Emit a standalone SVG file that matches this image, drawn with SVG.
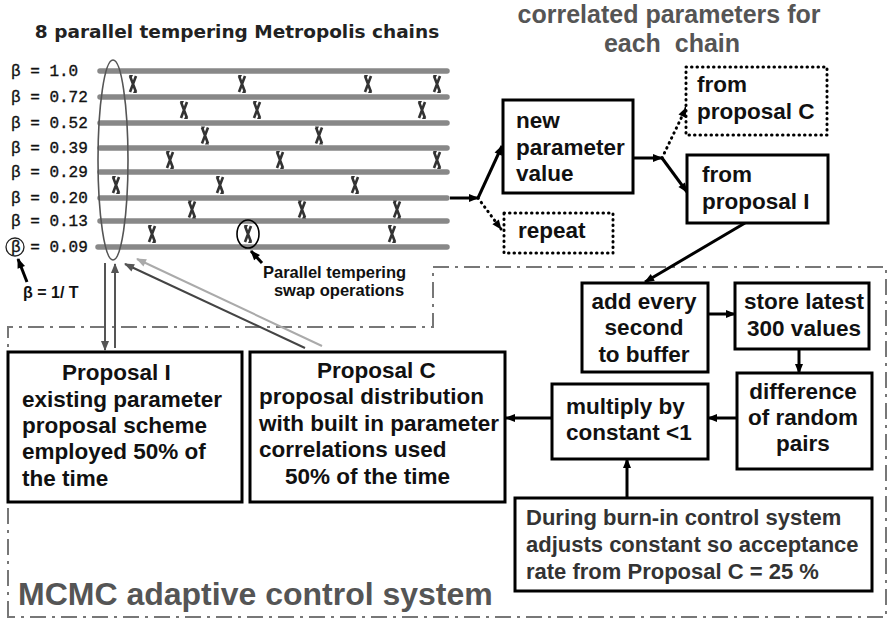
<svg xmlns="http://www.w3.org/2000/svg" xmlns:xlink="http://www.w3.org/1999/xlink" width="889" height="619" viewBox="0 0 889 619">
<defs>
<style>
.box{fill:#fff;stroke:#000;stroke-width:3}
.dbox{fill:#fff;stroke:#000;stroke-width:3;stroke-dasharray:0.5 5;stroke-linecap:round}
.t{font-family:"Liberation Sans",Arial,sans-serif;font-weight:bold;font-size:22.5px;fill:#111}
.tb{font-family:"Liberation Sans",Arial,sans-serif;font-weight:bold;font-size:22px;fill:#333}
.gt{font-family:"Liberation Sans",Arial,sans-serif;font-weight:bold;fill:#555}
.mono{font-family:"Liberation Mono","Courier New",monospace;font-size:16px;fill:#111;stroke:#111;stroke-width:0.35}
.chain{stroke:#888;stroke-width:5.5;stroke-linecap:round}
.a{fill:none;stroke:#000;stroke-width:3}
.ad{fill:none;stroke:#000;stroke-width:3;stroke-dasharray:0.5 5;stroke-linecap:round}
.bound{fill:none;stroke:#777;stroke-width:2;stroke-dasharray:16 6 3 6}
</style>
<marker id="ah" viewBox="0 0 10 10" refX="9" refY="5" markerWidth="11" markerHeight="10" markerUnits="userSpaceOnUse" orient="auto"><path d="M0,1 L10,5 L0,9 Z" fill="#000"/></marker>
<marker id="ahg" viewBox="0 0 10 10" refX="9" refY="5" markerWidth="11" markerHeight="10" markerUnits="userSpaceOnUse" orient="auto"><path d="M0,1 L10,5 L0,9 Z" fill="#555"/></marker>
<marker id="ahl" viewBox="0 0 10 10" refX="9" refY="5" markerWidth="11" markerHeight="10" markerUnits="userSpaceOnUse" orient="auto"><path d="M0,1 L10,5 L0,9 Z" fill="#aaa"/></marker>
<g id="swap">
<path d="M-3,-8 L3,8 M3,-8 L-3,8" stroke="#333" stroke-width="2.6" fill="none"/>
<path d="M-4,-9 L0,-9 L-2,-5 Z M4,9 L0,9 L2,5 Z" fill="#333"/>
</g>
</defs>
<rect width="889" height="619" fill="#fff"/>

<g id="boundary">
<path class="bound" d="M8,617 L8,327 L433,327 L433,267 L886,267 L886,617 Z"/>
</g>

<g id="titles">
<text x="237" y="38" text-anchor="middle" style="font-family:'DejaVu Sans',Verdana,sans-serif;font-weight:bold;font-size:18.5px;fill:#222">8 parallel tempering Metropolis chains</text>
<text class="gt" x="669" y="23" text-anchor="middle" font-size="25">correlated parameters for</text>
<text class="gt" x="672" y="52" text-anchor="middle" font-size="25">each&#160; chain</text>
<text class="gt" x="18" y="605" font-size="32">MCMC adaptive control system</text>
</g>

<g id="chains">
<line class="chain" x1="100" y1="71" x2="447" y2="71"/>
<line class="chain" x1="100" y1="97" x2="447" y2="97"/>
<line class="chain" x1="100" y1="123" x2="447" y2="123"/>
<line class="chain" x1="100" y1="148" x2="447" y2="148"/>
<line class="chain" x1="100" y1="172" x2="447" y2="172"/>
<line class="chain" x1="100" y1="198" x2="447" y2="198"/>
<line class="chain" x1="100" y1="221" x2="447" y2="221"/>
<line class="chain" x1="98" y1="247" x2="447" y2="247"/>
<text class="mono" x="11" y="76">β = 1.0</text>
<text class="mono" x="11" y="102">β = 0.72</text>
<text class="mono" x="11" y="128">β = 0.52</text>
<text class="mono" x="11" y="153">β = 0.39</text>
<text class="mono" x="11" y="177">β = 0.29</text>
<text class="mono" x="11" y="203">β = 0.20</text>
<text class="mono" x="11" y="226">β = 0.13</text>
<text class="mono" x="11" y="252">β = 0.09</text>
<circle cx="15" cy="247" r="9" fill="none" stroke="#222" stroke-width="1.3"/>
<text x="23" y="298" style="font-family:'Liberation Sans',Arial,sans-serif;font-weight:bold;font-size:16px;fill:#111">β = 1/ T</text>
</g>

<g id="swaps">
<use xlink:href="#swap" x="133" y="84"/>
<use xlink:href="#swap" x="242" y="84"/>
<use xlink:href="#swap" x="368" y="84"/>
<use xlink:href="#swap" x="437" y="84"/>
<use xlink:href="#swap" x="184" y="110"/>
<use xlink:href="#swap" x="257" y="110"/>
<use xlink:href="#swap" x="422" y="110"/>
<use xlink:href="#swap" x="205" y="135.5"/>
<use xlink:href="#swap" x="319" y="135.5"/>
<use xlink:href="#swap" x="170" y="160"/>
<use xlink:href="#swap" x="280" y="160"/>
<use xlink:href="#swap" x="437" y="160"/>
<use xlink:href="#swap" x="116" y="185"/>
<use xlink:href="#swap" x="220" y="185"/>
<use xlink:href="#swap" x="355" y="185"/>
<use xlink:href="#swap" x="192" y="209.5"/>
<use xlink:href="#swap" x="302" y="209.5"/>
<use xlink:href="#swap" x="397" y="209.5"/>
<use xlink:href="#swap" x="152" y="234"/>
<use xlink:href="#swap" x="248" y="234"/>
<use xlink:href="#swap" x="392" y="234"/>
<ellipse cx="248" cy="234" rx="11" ry="14" fill="none" stroke="#000" stroke-width="1.6"/>
<ellipse cx="113" cy="160" rx="15" ry="100" fill="none" stroke="#555" stroke-width="1.6"/>
<text x="263" y="278" style="font-family:'Liberation Sans',Arial,sans-serif;font-weight:bold;font-size:16.5px;fill:#111">Parallel tempering</text>
<text x="339" y="296" text-anchor="middle" style="font-family:'Liberation Sans',Arial,sans-serif;font-weight:bold;font-size:16.5px;fill:#111">swap operations</text>
</g>

<g id="connectors">
<path class="a" stroke-width="2" d="M27,282 L18,259" marker-end="url(#ah)"/>
<path class="a" stroke-width="2" d="M262,263 L251,251" marker-end="url(#ah)"/>
<path class="a" d="M450,198 H478" marker-end="url(#ah)"/>
<path class="a" d="M478,198 L502,146" marker-end="url(#ah)"/>
<path class="ad" d="M478,198 L501,229" marker-end="url(#ah)"/>
<path class="a" d="M633,158 H662" marker-end="url(#ah)"/>
<path class="a" d="M662,158 L687,192" marker-end="url(#ah)"/>
<path class="ad" d="M662,158 L686,108" marker-end="url(#ah)"/>
<path class="a" d="M745,223 L645,282" marker-end="url(#ah)"/>
<path class="a" d="M708,314 H735" marker-end="url(#ah)"/>
<path class="a" d="M799,349 V373" marker-end="url(#ah)"/>
<path class="a" d="M737,418 H708" marker-end="url(#ah)"/>
<path class="a" d="M552,418 H506" marker-end="url(#ah)"/>
<path class="a" d="M627,498 V459" marker-end="url(#ah)"/>
<path fill="none" stroke="#555" stroke-width="2" d="M105,263 V350" marker-end="url(#ahg)"/>
<path fill="none" stroke="#555" stroke-width="2" d="M115,348 V264" marker-end="url(#ahg)"/>
<path fill="none" stroke="#444" stroke-width="2" d="M305,348 L125,264" marker-end="url(#ahg)"/>
<path fill="none" stroke="#aaa" stroke-width="2" d="M322,346 L137,259" marker-end="url(#ahl)"/>
</g>

<g id="newParam">
<rect class="box" x="503" y="100" width="130" height="93"/>
<text class="t" x="516" y="128">new</text>
<text class="t" x="516" y="155">parameter</text>
<text class="t" x="516" y="181">value</text>
</g>
<g id="fromC">
<rect class="dbox" x="686" y="67" width="141" height="68"/>
<text class="t" x="697" y="92">from</text>
<text class="t" x="697" y="119">proposal C</text>
</g>
<g id="fromI">
<rect class="box" x="687" y="155" width="141" height="68"/>
<text class="t" x="702" y="182">from</text>
<text class="t" x="702" y="209">proposal I</text>
</g>
<g id="repeat">
<rect class="dbox" x="504" y="213" width="109" height="40"/>
<text class="t" x="518" y="238">repeat</text>
</g>
<g id="addEvery">
<rect class="box" x="582" y="283" width="126" height="89"/>
<text class="t" x="644" y="309" text-anchor="middle">add every</text>
<text class="t" x="644" y="335" text-anchor="middle">second</text>
<text class="t" x="644" y="362" text-anchor="middle">to buffer</text>
</g>
<g id="store">
<rect class="box" x="735" y="283" width="134" height="66"/>
<text class="t" x="804" y="309" text-anchor="middle">store latest</text>
<text class="t" x="804" y="336" text-anchor="middle">300 values</text>
</g>
<g id="difference">
<rect class="box" x="737" y="373" width="135" height="96"/>
<text class="t" x="803" y="399" text-anchor="middle">difference</text>
<text class="t" x="803" y="425" text-anchor="middle">of random</text>
<text class="t" x="803" y="451" text-anchor="middle">pairs</text>
</g>
<g id="multiply">
<rect class="box" x="552" y="384" width="156" height="75"/>
<text class="t" x="566" y="414">multiply by</text>
<text class="t" x="566" y="440">constant &lt;1</text>
</g>
<g id="burnin">
<rect class="box" x="515" y="498" width="357" height="93"/>
<text class="tb" x="526" y="525">During burn-in control system</text>
<text class="tb" x="526" y="552">adjusts constant so acceptance</text>
<text class="tb" x="526" y="579">rate from Proposal C = 25 %</text>
</g>
<g id="proposalI">
<rect class="box" x="8" y="352" width="234" height="150"/>
<text class="t" x="62" y="380">Proposal I</text>
<text class="t" x="22" y="407">existing parameter</text>
<text class="t" x="22" y="433">proposal scheme</text>
<text class="t" x="22" y="459">employed 50% of</text>
<text class="t" x="22" y="486">the time</text>
</g>
<g id="proposalC">
<rect class="box" x="250" y="352" width="255" height="150"/>
<text class="t" x="317" y="378">Proposal C</text>
<text class="t" x="259" y="404">proposal distribution</text>
<text class="t" x="259" y="431">with built in parameter</text>
<text class="t" x="259" y="457">correlations used</text>
<text class="t" x="285" y="484">50% of the time</text>
</g>
</svg>
